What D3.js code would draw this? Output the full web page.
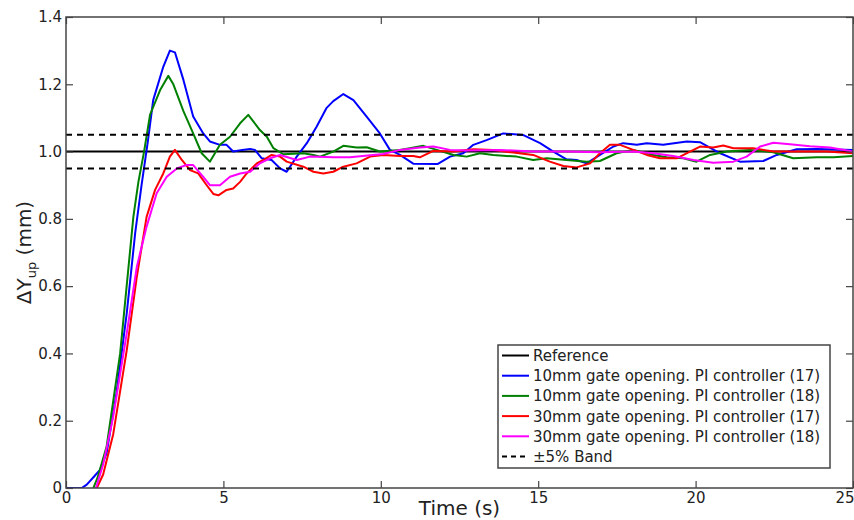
<!DOCTYPE html>
<html>
<head>
<meta charset="utf-8">
<script src="https://cdn.jsdelivr.net/npm/d3@7"></script>
<style>
  body { margin: 0; background: #fff; }
  text { font-family: "DejaVu Sans", sans-serif; fill: #222; }
</style>
</head>
<body>
<div id="viz"></div>
<script>
const width = 787;
const height = 471;
const margin = { top: 17, right: 1, bottom: 32, left: 66 };

// x ticks / y ticks
const xTicks = [0, 5, 10, 15, 20, 25];
const yTicks = [0, 0.2, 0.4, 0.6, 0.8, 1.0, 1.2, 1.4];
const yTickLabels = ['0', '0.2', '0.4', '0.6', '0.8', '1.0', '1.2', '1.4'];

// series
const blueT = [0, 0.5, 0.66, 0.9, 1.08, 1.29, 1.6, 1.93, 2.2, 2.4, 2.6, 2.77, 3.09, 3.3, 3.46, 3.73, 4.04, 4.36, 4.57, 4.89, 5.1, 5.31, 5.6, 5.85, 6.0, 6.22, 6.53, 6.8, 7.01, 7.33, 7.65, 7.96, 8.28, 8.49, 8.81, 9.13, 9.55, 9.97, 10.29, 10.61, 11.03, 11.8, 12.2, 12.62, 12.94, 13.36, 13.89, 14.53, 15.06, 15.48, 15.9, 16.22, 16.54, 16.96, 17.39, 17.7, 18.13, 18.45, 18.97, 19.72, 20.14, 20.78, 21.41, 22.15, 22.58, 23.21, 23.85, 25];
const blueY = [0, 0, 0.01, 0.035, 0.054, 0.104, 0.28, 0.52, 0.76, 0.9, 1.03, 1.153, 1.252, 1.30, 1.295, 1.213, 1.104, 1.054, 1.03, 1.02, 1.02, 1.0, 1.005, 1.008, 1.005, 0.98, 0.975, 0.95, 0.94, 0.985, 1.025, 1.074, 1.13, 1.15, 1.171, 1.153, 1.104, 1.054, 1.005, 0.99, 0.964, 0.963, 0.985, 0.995, 1.02, 1.034, 1.054, 1.049, 1.025, 1.0, 0.977, 0.975, 0.965, 0.99, 1.015, 1.025, 1.02, 1.025, 1.02, 1.03, 1.028, 0.995, 0.97, 0.972, 0.99, 1.007, 1.008, 1.005];

const greenT = [0.87, 1.0, 1.29, 1.72, 2.14, 2.3, 2.48, 2.67, 2.99, 3.25, 3.41, 3.73, 4.04, 4.31, 4.57, 4.89, 5.21, 5.53, 5.79, 6.16, 6.38, 6.59, 6.9, 7.54, 7.86, 8.07, 8.49, 8.81, 9.23, 9.55, 9.97, 10.61, 11.35, 11.78, 12.31, 12.73, 13.15, 13.57, 14.32, 14.84, 15.27, 15.9, 16.54, 16.96, 17.49, 18.02, 18.66, 19.08, 19.61, 20.03, 20.46, 20.99, 21.73, 22.47, 23.1, 23.85, 24.38, 25];
const greenY = [0, 0.03, 0.123, 0.40, 0.806, 0.91, 1.0, 1.11, 1.183, 1.225, 1.2, 1.12, 1.054, 0.995, 0.97, 1.02, 1.044, 1.084, 1.109, 1.064, 1.044, 1.01, 0.992, 0.995, 0.99, 0.985, 1.0, 1.017, 1.012, 1.013, 1.0, 1.005, 1.017, 1.005, 0.99, 0.985, 0.995, 0.99, 0.985, 0.975, 0.98, 0.975, 0.97, 0.972, 0.995, 1.005, 0.99, 0.983, 0.98, 0.97, 0.99, 1.0, 1.005, 0.998, 0.98, 0.983, 0.983, 0.987];

const redT = [0.98, 1.18, 1.5, 1.93, 2.25, 2.56, 2.83, 3.09, 3.3, 3.46, 3.68, 3.94, 4.2, 4.47, 4.68, 4.84, 5.1, 5.31, 5.53, 5.74, 6.06, 6.27, 6.53, 6.8, 7.01, 7.54, 7.86, 8.17, 8.49, 8.81, 9.23, 9.66, 10.08, 10.61, 11.03, 11.24, 11.67, 12.31, 12.94, 13.57, 14.21, 14.84, 15.37, 15.8, 16.22, 16.65, 16.96, 17.28, 17.6, 18.02, 18.45, 18.87, 19.4, 19.82, 20.14, 20.56, 20.88, 21.2, 21.83, 22.47, 23.32, 24.16, 25];
const redY = [0, 0.04, 0.16, 0.41, 0.628, 0.806, 0.886, 0.935, 0.985, 1.005, 0.975, 0.945, 0.935, 0.90, 0.874, 0.87, 0.886, 0.89, 0.91, 0.935, 0.965, 0.975, 0.99, 0.985, 0.97, 0.955, 0.94, 0.935, 0.94, 0.955, 0.965, 0.985, 0.99, 0.987, 0.987, 0.983, 1.002, 1.0, 1.007, 1.005, 0.997, 0.99, 0.97, 0.957, 0.953, 0.965, 0.995, 1.02, 1.02, 1.005, 0.99, 0.98, 0.98, 1.0, 1.015, 1.012, 1.018, 1.01, 1.01, 1.0, 1.0, 1.0, 0.995];

const magentaT = [0.95, 1.18, 1.5, 1.93, 2.25, 2.56, 2.88, 3.2, 3.52, 3.83, 4.04, 4.36, 4.57, 4.89, 5.21, 5.53, 5.85, 6.16, 6.48, 6.8, 7.33, 7.75, 8.49, 9.02, 10.08, 10.61, 11.24, 11.67, 12.2, 12.73, 13.8, 14.84, 15.9, 16.96, 18.02, 18.66, 19.29, 19.93, 20.56, 21.2, 21.62, 22.05, 22.47, 23.0, 23.63, 24.27, 25];
const magentaY = [0, 0.07, 0.212, 0.46, 0.658, 0.777, 0.876, 0.925, 0.95, 0.96, 0.96, 0.925, 0.9, 0.9, 0.925, 0.935, 0.94, 0.965, 0.98, 0.99, 0.975, 0.985, 0.983, 0.983, 0.993, 1.005, 1.012, 1.015, 1.005, 1.003, 1.005, 1.0, 1.0, 0.998, 1.0, 0.995, 0.987, 0.975, 0.967, 0.97, 0.985, 1.015, 1.026, 1.022, 1.016, 1.012, 1.0];

const referenceLevel = 1.0;
const bandLevels = [1.05, 0.95];

const seriesNames = [
  'Reference',
  '10mm gate opening. PI controller (17)',
  '10mm gate opening. PI controller (18)',
  '30mm gate opening. PI controller (17)',
  '30mm gate opening. PI controller (18)',
  '\u00b15% Band'
];
const seriesColors = ['#000000', '#0000ff', '#008000', '#ff0000', '#ff00ff', '#000000'];

const series = [
  { t: blueT, v: blueY, color: seriesColors[1] },
  { t: greenT, v: greenY, color: seriesColors[2] },
  { t: redT, v: redY, color: seriesColors[3] },
  { t: magentaT, v: magentaY, color: seriesColors[4] }
];

const container = d3.create('svg')
  .attr('width', width + margin.left + margin.right)
  .attr('height', height + margin.top + margin.bottom);

const chart = container.append('g')
  .attr('transform', `translate(${margin.left}, ${margin.top})`);

const x = d3.scaleLinear().domain([0, 25]).range([0, width]);
const y = d3.scaleLinear().domain([0, 1.4]).range([height, 0]);

chart.append('clipPath').attr('id', 'clip')
  .append('rect').attr('width', width).attr('height', height);

const plot = chart.append('g').attr('clip-path', 'url(#clip)');

// reference
plot.append('line')
  .attr('x1', x(0)).attr('x2', x(25))
  .attr('y1', y(referenceLevel)).attr('y2', y(referenceLevel))
  .attr('stroke', '#000').attr('stroke-width', 2);

const line = d3.line()
  .x(d => x(d[0]))
  .y(d => y(d[1]));

series.forEach(s => {
  plot.append('path')
    .datum(s.t.map((t, i) => [t, s.v[i]]))
    .attr('d', line)
    .attr('fill', 'none')
    .attr('stroke', s.color)
    .attr('stroke-width', 2)
    .attr('stroke-linejoin', 'round');
});

// +-5% band
plot.selectAll('.band')
  .data(bandLevels)
  .enter()
  .append('line')
    .attr('class', 'band')
    .attr('x1', x(0)).attr('x2', x(25))
    .attr('y1', d => y(d)).attr('y2', d => y(d))
    .attr('stroke', '#000')
    .attr('stroke-width', 2)
    .attr('stroke-dasharray', '6,5');

// axes: ticks inside on all four sides
const tickLen = 7;
const fmtY = d => yTickLabels[yTicks.indexOf(d)];

const xaxis = chart.append('g')
  .attr('transform', `translate(0, ${height})`)
  .call(d3.axisBottom(x).tickValues(xTicks).tickSize(-tickLen).tickPadding(4).tickFormat(d3.format('d')));

// last label sits at the figure edge
xaxis.selectAll('.tick text')
  .filter(d => d === 25)
  .attr('text-anchor', 'end')
  .attr('x', 1);

const yaxis = chart.append('g')
  .call(d3.axisLeft(y).tickValues(yTicks).tickSize(-tickLen).tickPadding(4).tickFormat(fmtY));

chart.append('g')
  .call(d3.axisTop(x).tickValues(xTicks).tickSize(-tickLen).tickFormat(''));

chart.append('g')
  .attr('transform', `translate(${width}, 0)`)
  .call(d3.axisRight(y).tickValues(yTicks).tickSize(-tickLen).tickFormat(''));

chart.selectAll('.domain').remove();
chart.selectAll('.tick line').attr('stroke', '#444').attr('stroke-width', 1.2);
chart.selectAll('.tick text')
  .style('font-size', '15px')
  .style('font-family', '"DejaVu Sans", sans-serif')
  .attr('fill', '#222');

chart.append('rect')
  .attr('width', width)
  .attr('height', height)
  .attr('fill', 'none')
  .attr('stroke', '#444')
  .attr('stroke-width', 1.5);

// axis titles
chart.append('text')
  .attr('x', width / 2)
  .attr('y', height + 27)
  .style('text-anchor', 'middle')
  .style('font-size', '20px')
  .text('Time (s)');

const ytitle = chart.append('text')
  .attr('transform', `translate(${24 - margin.left}, ${height / 2}) rotate(-90)`)
  .attr('dy', '0.35em')
  .style('text-anchor', 'middle')
  .style('font-size', '20px');
ytitle.append('tspan').text('\u0394Y');
ytitle.append('tspan').attr('dy', 5).style('font-size', '13px').text('up');
ytitle.append('tspan').attr('dy', -5).text(' (mm)');

// legend
const legX = 432, legY = 328, legW = 332, legH = 123, rowH = 20.2;
const legend = chart.append('g').attr('transform', `translate(${legX}, ${legY})`);

legend.append('rect')
  .attr('width', legW).attr('height', legH)
  .attr('fill', '#fff')
  .attr('stroke', '#444')
  .attr('stroke-width', 1.5);

const rows = legend.selectAll('.legend-row')
  .data(seriesNames)
  .enter()
  .append('g')
  .attr('class', 'legend-row')
  .attr('transform', (d, i) => `translate(0, ${10.5 + i * rowH})`);

rows.append('line')
  .attr('x1', 4).attr('x2', 31)
  .attr('stroke', (d, i) => seriesColors[i])
  .attr('stroke-width', 2)
  .attr('stroke-dasharray', (d, i) => i === 5 ? '5,4' : null);

rows.append('text')
  .attr('x', 35)
  .attr('dy', '0.36em')
  .style('font-size', '15px')
  .text(d => d);

d3.select('#viz').node().appendChild(container.node());
</script>
</body>
</html>
